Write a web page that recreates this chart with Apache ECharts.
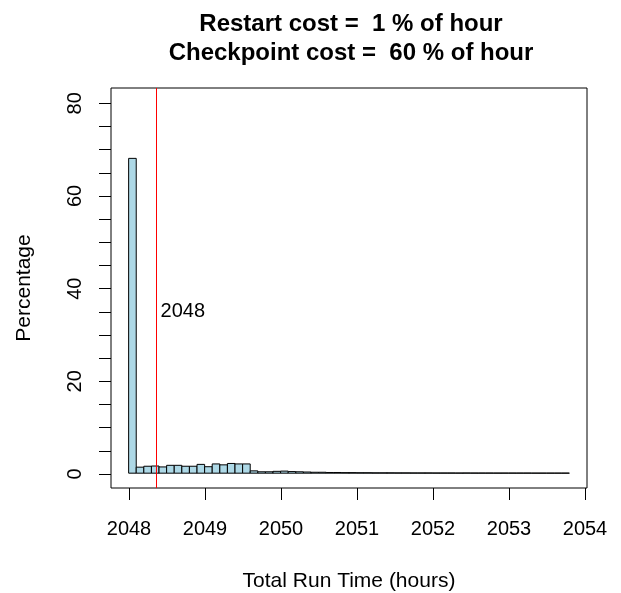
<!DOCTYPE html>
<html>
<head>
<meta charset="utf-8">
<script src="https://cdn.jsdelivr.net/npm/echarts@6/dist/echarts.min.js"></script>
<style>
html,body{margin:0;padding:0;background:#fff;}
#chart{width:621px;height:593px;}
</style>
</head>
<body>
<div id="chart"></div>
<script>
// ---- data ----
const titleLines = ["Restart cost =  1 % of hour", "Checkpoint cost =  60 % of hour"];
const xLabel = "Total Run Time (hours)";
const yLabel = "Percentage";
const binWidth = 0.1;
const binStarts = [
  2048.0, 2048.1, 2048.2, 2048.3, 2048.4, 2048.5, 2048.6, 2048.7, 2048.8, 2048.9,
  2049.0, 2049.1, 2049.2, 2049.3, 2049.4, 2049.5, 2049.6, 2049.7, 2049.8, 2049.9,
  2050.0, 2050.1, 2050.2, 2050.3, 2050.4, 2050.5, 2050.6, 2050.7, 2050.8, 2050.9,
  2051.0, 2051.1, 2051.2, 2051.3, 2051.4, 2051.5, 2051.6, 2051.7, 2051.8, 2051.9,
  2052.0, 2052.1, 2052.2, 2052.3, 2052.4, 2052.5, 2052.6, 2052.7, 2052.8, 2052.9,
  2053.0, 2053.1, 2053.2, 2053.3, 2053.4, 2053.5, 2053.6, 2053.7
];
const percentages = [
  68, 1.3, 1.5, 1.55, 1.35, 1.7, 1.7, 1.5, 1.5, 1.9,
  1.4, 2.0, 1.8, 2.1, 2.0, 2.0, 0.5, 0.3, 0.3, 0.4,
  0.45, 0.35, 0.3, 0.25, 0.2, 0.2, 0.15, 0.15, 0.12, 0.12,
  0.1, 0.1, 0.08, 0.08, 0.08, 0.07, 0.07, 0.06, 0.06, 0.06,
  0.05, 0.05, 0.05, 0.04, 0.05, 0.04, 0.04, 0.04, 0.03, 0.03,
  0.03, 0.03, 0.03, 0.02, 0.02, 0.02, 0.02, 0.02
];
const meanValue = 2048.355;
const meanLabel = "2048";
const meanLabelY = 35;
const xTickMin = 2048, xTickMax = 2054, xTickStep = 1;
const yTickMin = 0, yTickMax = 80, yTickStep = 5, yLabelStep = 20;
const xRange = [2047.768, 2054.032];
const yRange = [-3.2, 83.2];

// ---- chart ----
const FONT = "'Liberation Sans', Arial, Helvetica, sans-serif";
const chart = echarts.init(document.getElementById('chart'), null, {renderer: 'canvas'});
const barData = binStarts.map((s, i) => [s, percentages[i]]);

const option = {
  animation: false,
  backgroundColor: '#ffffff',
  textStyle: {fontFamily: FONT},
  title: {
    text: titleLines.join('\n'),
    left: 346,
    top: 5,
    textAlign: 'center',
    textStyle: {fontFamily: FONT, fontSize: 24, fontWeight: 'bold', color: '#000', lineHeight: 29}
  },
  grid: [
    {left: 111, top: 88, width: 476, height: 400, show: true, borderColor: '#000', borderWidth: 1,
     backgroundColor: 'transparent', containLabel: false, outerBoundsMode: 'none'},
    {left: 129, top: 88, width: 456, height: 400, containLabel: false, outerBoundsMode: 'none'},
    {left: 111, top: 103.3, width: 476, height: 370.7, containLabel: false, outerBoundsMode: 'none'}
  ],
  xAxis: [
    {type: 'value', gridIndex: 0, min: xRange[0], max: xRange[1],
     axisLine: {show: false}, axisTick: {show: false}, axisLabel: {show: false}, splitLine: {show: false},
     name: xLabel, nameLocation: 'middle', nameGap: 83,
     nameTextStyle: {fontSize: 21, color: '#000', fontFamily: FONT}},
    {type: 'value', gridIndex: 1, min: xTickMin, max: xTickMax, interval: xTickStep,
     axisLine: {show: false, onZero: false},
     axisTick: {show: true, length: 12, lineStyle: {color: '#000'}},
     axisLabel: {fontSize: 20, color: '#000', fontFamily: FONT, margin: 31, showMinLabel: true, showMaxLabel: true,
       formatter: v => String(v)},
     splitLine: {show: false}},
    {type: 'value', gridIndex: 2, min: 0, max: 1, show: false}
  ],
  yAxis: [
    {type: 'value', gridIndex: 0, min: yRange[0], max: yRange[1],
     axisLine: {show: false}, axisTick: {show: false}, axisLabel: {show: false}, splitLine: {show: false},
     name: yLabel, nameLocation: 'middle', nameGap: 76, nameRotate: 90,
     nameTextStyle: {fontSize: 21, color: '#000', fontFamily: FONT}},
    {type: 'value', gridIndex: 1, min: 0, max: 1, show: false},
    {type: 'value', gridIndex: 2, min: yTickMin, max: yTickMax, interval: yTickStep,
     axisLine: {show: false, onZero: false},
     axisTick: {show: true, length: 12, lineStyle: {color: '#000'}},
     axisLabel: {fontSize: 20, color: '#000', fontFamily: FONT, rotate: 90, margin: 26,
       formatter: v => (v % yLabelStep === 0 ? String(v) : '')},
     splitLine: {show: false}}
  ],
  series: [
    {
      type: 'custom',
      xAxisIndex: 0, yAxisIndex: 0,
      data: barData,
      renderItem: function (params, api) {
        const x0 = api.value(0);
        const y = api.value(1);
        const p1 = api.coord([x0, y]);
        const p2 = api.coord([x0 + binWidth, 0]);
        return {
          type: 'rect',
          shape: {x: p1[0], y: p1[1], width: p2[0] - p1[0], height: p2[1] - p1[1]},
          style: {fill: '#ADD8E6', stroke: '#000', lineWidth: 1}
        };
      },
      markLine: {
        silent: true, symbol: ['none', 'none'],
        label: {show: false},
        lineStyle: {color: '#ff0000', width: 1, type: 'solid'},
        data: [{xAxis: meanValue}]
      }
    },
    {
      type: 'custom',
      xAxisIndex: 0, yAxisIndex: 0,
      data: [[meanValue, meanLabelY]],
      renderItem: function (params, api) {
        const p = api.coord([api.value(0), api.value(1)]);
        return {
          type: 'text',
          x: p[0] + 5, y: p[1],
          style: {text: meanLabel, fill: '#000', font: '20px ' + FONT, textAlign: 'left', textVerticalAlign: 'middle'}
        };
      }
    }
  ]
};
chart.setOption(option);
</script>
</body>
</html>
